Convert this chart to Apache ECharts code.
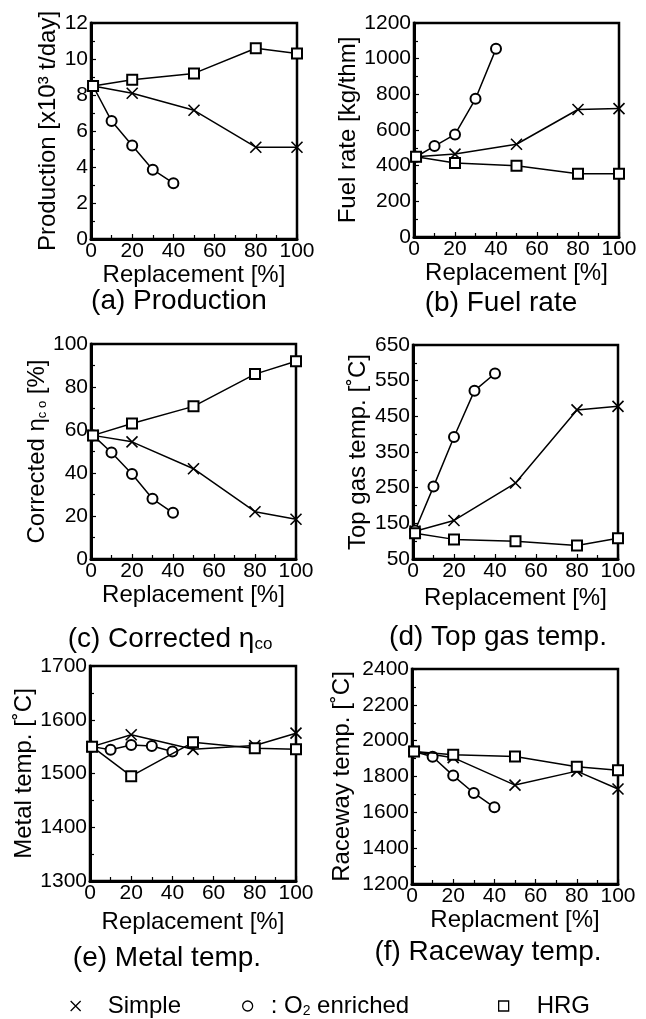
<!DOCTYPE html>
<html>
<head>
<meta charset="utf-8">
<script src="https://cdn.jsdelivr.net/npm/echarts@6/dist/echarts.min.js"></script>
<style>
html,body{margin:0;padding:0;background:#fff}
#main{width:646px;height:1019px}
</style>
</head>
<body>
<div id="main"></div>
<script>
// replacement [%] for each case
var xSimple = [1, 20, 50, 80, 100];
var xO2 = [1, 10, 20, 30, 40];
var xHRG = [1, 20, 50, 80, 100];

// (a) production
var prodSimple = [8.5, 8.1, 7.15, 5.1, 5.1];
var prodO2 = [8.5, 6.55, 5.2, 3.85, 3.1];
var prodHRG = [8.5, 8.85, 9.2, 10.6, 10.3];
// (b) fuel rate
var fuelSimple = [450, 465, 520, 715, 720];
var fuelO2 = [450, 510, 575, 775, 1055];
var fuelHRG = [450, 415, 400, 355, 355];
// (c) corrected eta co
var etaSimple = [57.5, 54.5, 42, 22, 18.5];
var etaO2 = [57.5, 49.5, 39.5, 28, 21.5];
var etaHRG = [57.5, 63, 71, 86, 92];
// (d) top gas temp
var topSimple = [128, 158, 263, 468, 478];
var topO2 = [130, 253, 392, 522, 570];
var topHRG = [122, 105, 100, 88, 108];
// (e) metal temp
var metalSimple = [1550, 1572, 1545, 1552, 1575];
var metalO2 = [1550, 1544, 1553, 1551, 1541];
var metalHRG = [1550, 1495, 1558, 1547, 1545];
// (f) raceway temp
var raceSimple = [1940, 1905, 1752, 1830, 1730];
var raceO2 = [1940, 1910, 1805, 1708, 1628];
var raceHRG = [1940, 1922, 1912, 1855, 1835];

var FONT = 'Liberation Sans, Arial, Helvetica, sans-serif';
var CROSS = 'path://M0 0L10 10M10 0L0 10';
var BOX = 'path://M0 0H10V10H0Z';
var RING = 'path://M10 5A5 5 0 1 1 0 5A5 5 0 1 1 10 5Z';

function pairs(xs, ys) {
  return xs.map(function (x, i) { return [x, ys[i]]; });
}

var panels = [
  {box: [91, 23, 206, 216], min: 0, max: 12, step: 2, yName: 'Production [x10³ t/day]', yGap: 30, xName: 'Replacement [%]', xGap: 22,
    s: prodSimple, o: prodO2, h: prodHRG, cap: '(a) Production', cx: 179, cy: 301},
  {box: [414, 23, 205, 214], min: 0, max: 1200, step: 200, yName: 'Fuel rate [kg/thm]', yGap: 53, xName: 'Replacement [%]', xGap: 24,
    s: fuelSimple, o: fuelO2, h: fuelHRG, cap: '(b) Fuel rate', cx: 501, cy: 303},
  {box: [91, 344, 205, 215], min: 0, max: 100, step: 20, yName: 'Corrected η{sub|c o} [%]', yGap: 38, xName: 'Replacement [%]', xGap: 22,
    s: etaSimple, o: etaO2, h: etaHRG, cap: '(c) Corrected η{sub|co}', cx: 170, cy: 639},
  {box: [413, 345, 205, 214], min: 50, max: 650, step: 100, yName: 'Top gas temp. [˚C]', yGap: 43, xName: 'Replacement [%]', xGap: 27,
    s: topSimple, o: topO2, h: topHRG, cap: '(d) Top gas temp.', cx: 498, cy: 637},
  {box: [90, 666, 206, 215], min: 1300, max: 1700, step: 100, yName: 'Metal temp. [˚C]', yGap: 53, xName: 'Replacement [%]', xGap: 29,
    s: metalSimple, o: metalO2, h: metalHRG, cap: '(e) Metal temp.', cx: 167, cy: 958},
  {box: [412, 669, 206, 215], min: 1200, max: 2400, step: 200, yName: 'Raceway temp. [˚C]', yGap: 58, xName: 'Replacment [%]', xGap: 24,
    s: raceSimple, o: raceO2, h: raceHRG, cap: '(f) Raceway temp.', cx: 488, cy: 952}
];

var rich = {
  sub: {fontSize: 13, fontFamily: FONT, color: '#000', verticalAlign: 'bottom'}
};
var capRich = {
  sub: {fontSize: 17, fontFamily: FONT, fill: '#000', verticalAlign: 'bottom'}
};

function plain(v) { return String(v); }

var grids = [], xAxes = [], yAxes = [], series = [], graphics = [];

panels.forEach(function (p, i) {
  grids.push({left: p.box[0], top: p.box[1], width: p.box[2], height: p.box[3],
    show: true, borderColor: '#000', borderWidth: 2.5, backgroundColor: 'transparent'});
  var tick = {show: true, inside: true, length: 5, lineStyle: {color: '#000', width: 1.2}};
  var minor = {show: true, splitNumber: 2, length: 4, lineStyle: {color: '#000', width: 1.2}};
  xAxes.push({
    gridIndex: i, type: 'value', min: 0, max: 100, interval: 20,
    axisLine: {onZero: false, lineStyle: {color: '#000', width: 3}},
    axisTick: tick, minorTick: minor, splitLine: {show: false},
    axisLabel: {color: '#000', fontSize: 21, fontFamily: FONT, margin: 2, formatter: plain},
    name: p.xName, nameLocation: 'middle', nameGap: p.xGap,
    nameTextStyle: {color: '#000', fontSize: 24, fontFamily: FONT}
  });
  yAxes.push({
    gridIndex: i, type: 'value', min: p.min, max: p.max, interval: p.step,
    axisLine: {onZero: false, lineStyle: {color: '#000', width: 3}},
    axisTick: tick, minorTick: minor, splitLine: {show: false},
    axisLabel: {color: '#000', fontSize: 21, fontFamily: FONT, margin: 3, formatter: plain},
    name: p.yName, nameLocation: 'middle', nameGap: p.yGap,
    nameTextStyle: {color: '#000', fontSize: 24, fontFamily: FONT, rich: rich}
  });
  var base = {type: 'line', xAxisIndex: i, yAxisIndex: i, symbolSize: 10, animation: false,
    lineStyle: {color: '#000', width: 1.5}};
  series.push(Object.assign({}, base, {name: 'Simple', data: pairs(xSimple, p.s), symbol: CROSS, symbolSize: 11,
    itemStyle: {color: '#000', borderColor: '#000', borderWidth: 1.6}, z: 3}));
  series.push(Object.assign({}, base, {name: 'O2', data: pairs(xO2, p.o), symbol: 'emptyCircle',
    itemStyle: {color: '#000', borderColor: '#000', borderWidth: 1.5}, z: 4}));
  series.push(Object.assign({}, base, {name: 'HRG', data: pairs(xHRG, p.h), symbol: 'emptyRect',
    itemStyle: {color: '#000', borderColor: '#000', borderWidth: 1.5}, z: 5}));
  graphics.push({type: 'text', x: p.cx, y: p.cy,
    style: {text: p.cap, fontSize: 28, fontFamily: FONT, fill: '#000', align: 'center', verticalAlign: 'middle', rich: capRich}});
});

// one legend per case so each can sit where the original puts it
function legendAt(iconX, name, icon, fill, fmt, textPad) {
  return {
    left: iconX - 10, top: 989, itemWidth: 10, itemHeight: 10, itemGap: 0, selectedMode: false,
    data: [{name: name, icon: icon, itemStyle: {color: fill, borderColor: '#000', borderWidth: 1.3}}],
    formatter: function () { return fmt; },
    textStyle: {color: '#000', fontSize: 24, fontFamily: FONT, padding: [0, 0, 0, textPad],
      rich: {sub: {fontSize: 14, fontFamily: FONT, color: '#000', verticalAlign: 'bottom'}}}
  };
}

var chart = echarts.init(document.getElementById('main'));
chart.setOption({
  backgroundColor: '#fff',
  animation: false,
  grid: grids,
  xAxis: xAxes,
  yAxis: yAxes,
  series: series,
  legend: [
    legendAt(75, 'Simple', CROSS, '#000', 'Simple', 22),
    legendAt(247, 'O2', RING, '#fff', ': O{sub|2} enriched', 13),
    legendAt(503, 'HRG', BOX, '#fff', 'HRG', 23)
  ],
  graphic: graphics
});
</script>
</body>
</html>
